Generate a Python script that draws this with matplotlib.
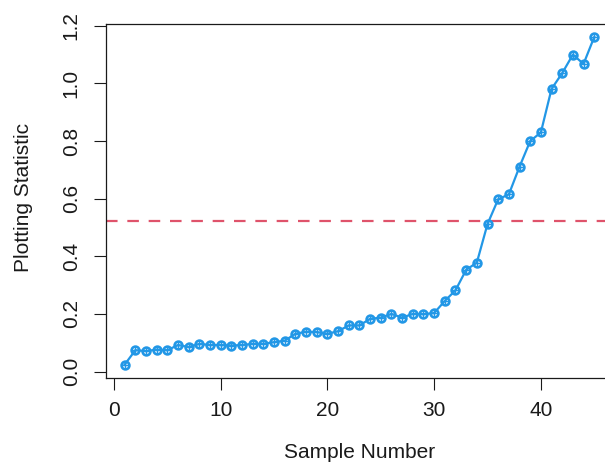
import matplotlib
matplotlib.use("Agg")
import matplotlib.pyplot as plt
import numpy as np

plt.rcParams['font.family'] = ['Liberation Sans', 'DejaVu Sans']

sample = list(range(1, 46))
stat = [0.024, 0.074, 0.071, 0.076, 0.074, 0.092, 0.085, 0.096, 0.092, 0.092,
        0.090, 0.092, 0.096, 0.096, 0.102, 0.107, 0.131, 0.138, 0.137, 0.131,
        0.140, 0.160, 0.160, 0.183, 0.187, 0.200, 0.187, 0.200, 0.199, 0.203,
        0.245, 0.282, 0.353, 0.378, 0.512, 0.598, 0.615, 0.711, 0.800, 0.830,
        0.981, 1.036, 1.100, 1.068, 1.161]
threshold = 0.523
xticks = [0, 10, 20, 30, 40]
yticks = [0.0, 0.2, 0.4, 0.6, 0.8, 1.0, 1.2]

blue = '#2297E6'
red = '#DF536B'
ink = '#1a1a1a'
fs = 15

W, H = 605, 471
L, R, T, B = 105.9, 613.0, 24.0, 377.7

fig = plt.figure(figsize=(W / 100, H / 100), dpi=100)
ax = fig.add_axes([L / W, 1 - B / H, (R - L) / W, (B - T) / H])

ax.plot(sample, stat, color=blue, lw=1.6, marker='o', ms=5.6, mfc='none',
        mec=blue, mew=1.9, zorder=3)
ax.plot(sample, stat, ls='none', marker='+', ms=4.2, mec=blue, mew=1.0, zorder=4)
ax.axhline(threshold, color=red, lw=1.6, ls=(0, (5.2, 4.4)), zorder=2)

rng_x = max(sample) - min(sample)
ax.set_xlim(min(sample) - 0.04 * rng_x, max(sample) + 0.04 * rng_x)
rng_y = max(stat) - min(stat)
ax.set_ylim(min(stat) - 0.04 * rng_y, max(stat) + 0.04 * rng_y)

ax.set_xticks(xticks)
ax.set_xticklabels([str(t) for t in xticks])
ax.set_yticks(yticks)
ax.set_yticklabels([f"{t:.1f}" for t in yticks], rotation=90, va='center')

ax.tick_params(axis='both', length=8.6, width=0.8, color=ink,
               labelsize=fs, labelcolor=ink)
ax.tick_params(axis='x', pad=8.5)
ax.tick_params(axis='y', pad=9.5)
for s in ax.spines.values():
    s.set_linewidth(0.9)
    s.set_color(ink)

ax.set_xlabel('Sample Number', fontsize=fs, color=ink, va='center', ha='center')
ax.xaxis.set_label_coords(0.5, (B - 453) / (B - T))
ax.set_ylabel('Plotting Statistic', fontsize=fs, color=ink, va='center', ha='center')
ax.yaxis.set_label_coords((24 - L) / (R - L), 0.5 - (197 - (T + B) / 2) / (B - T))

fig.savefig('out.png', dpi=100)
